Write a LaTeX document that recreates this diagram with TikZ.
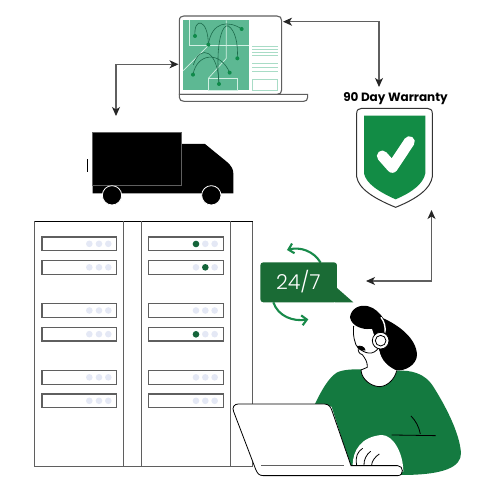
\documentclass[tikz,border=0pt]{standalone}
\usepackage{fontspec}
\setmainfont{Poppins}
\newfontfamily\lightface{Poppins Light}
\usetikzlibrary{arrows.meta,calc}
\definecolor{panelgreen}{HTML}{5DB893}
\definecolor{palegreen}{HTML}{A8DCC6}
\definecolor{gridline}{HTML}{D2F0E3}
\definecolor{dotgreen}{HTML}{0F8A4A}
\definecolor{curvegreen}{HTML}{1D6B4C}
\definecolor{shieldgreen}{HTML}{128C45}
\definecolor{bubblegreen}{HTML}{1A6B35}
\definecolor{shirtgreen}{HTML}{147A40}
\definecolor{arrowgreen}{HTML}{188A4A}
\definecolor{ledoff}{HTML}{E4E8F5}
\definecolor{ledon}{HTML}{15653A}
\definecolor{rule}{HTML}{5F5F5F}
\tikzset{
  link/.style={draw=rule,line width=1.1pt,{Stealth[length=9pt,width=8pt,inset=2.5pt,color=black!85]}-{Stealth[length=9pt,width=8pt,inset=2.5pt,color=black!85]}},
  outline/.style={draw=rule,line width=1.1pt},
  slot/.style={draw=rule,line width=1.1pt,fill=white},
  led/.style={circle,fill=ledoff,minimum size=6.6pt,inner sep=0pt},
  ledlit/.style={circle,fill=ledon,minimum size=6.6pt,inner sep=0pt},
  spot/.style={circle,fill=dotgreen,minimum size=4pt,inner sep=0pt},
  route/.style={draw=curvegreen,line width=.6pt},
  grid/.style={draw=gridline,line width=.7pt},
  listline/.style={draw=palegreen,line width=.9pt},
  sway/.style={draw=arrowgreen,line width=2.1pt,-{Straight Barb[length=5pt,width=10pt,line width=2.1pt]}},
  ink/.style={draw=black,line width=.8pt}
}
\begin{document}
\begin{tikzpicture}[x=1pt,y=-1pt]
\useasboundingbox (0,0) rectangle (500,500);
\fill[white] (0,0) rectangle (500,500);

% anchors where the connectors meet the objects
\coordinate (lapE) at (283,21.7);
\coordinate (warN) at (379,87);
\coordinate (lapW) at (178.5,64.3);
\coordinate (truckN) at (116,116);
\coordinate (shieldS) at (431.5,210);
\coordinate (chatE) at (366,281);

% notebook with a route map on screen
\begin{scope}[shift={(160,0)},scale=0.3333]
  \draw[outline,fill=white] (58,283) -- (58,62) .. controls (58,52) and (64,48) .. (72,48) -- (351,48) .. controls (360,48) and (365,53) .. (365,62) -- (365,270) .. controls (365,278) and (360,283) .. (352,283) -- cycle;
  \draw[outline,fill=white] (58,283) -- (443,283) -- (443,292) .. controls (443,300) and (438,304) .. (431,304) -- (72,304) .. controls (64,304) and (58,300) .. (58,292) -- cycle;
  \fill[panelgreen] (70,61) rectangle (266,271);
  \draw[grid] (88,61) -- (88,137) -- (266,137);
  \draw[grid] (199,61) -- (199,175) -- (145,235);
  \draw[grid] (145,235) rectangle (233,271);
  \draw[grid] (145,137) -- (70,212);
  \foreach \yy in {140,147,156,166,190,202,214} \draw[listline] (277,\yy) -- (353,\yy);
  \draw[listline] (277,237) rectangle (353,271);
  \draw[route] (105,108) .. controls (100,50) and (145,55) .. (145,134);
  \draw[route] (145,134) .. controls (155,65) and (205,60) .. (245,87);
  \draw[route] (177,252) .. controls (165,120) and (190,70) .. (205,78) .. controls (225,90) and (235,130) .. (232,175);
  \draw[route] (99,224) .. controls (110,160) and (180,150) .. (209,218);
  \draw[route] (100,195) .. controls (120,130) and (175,150) .. (177,252);
  \foreach \n/\p in {a/{105,108},b/{145,134},c/{245,87},d/{232,175},e/{209,218},f/{99,224},g/{177,252}}
    \node[spot] (spot\n) at (\p) {};
\end{scope}

% warranty shield
\node[font=\bfseries\fontsize{12}{14}\selectfont,inner sep=0pt] (warranty) at (395.5,98.5) {90 Day Warranty};
\begin{scope}[shift={(330,80)},scale=0.3333]
  \draw[draw=black!80,line width=1pt,fill=white] (80,100) .. controls (80,90) and (86,85) .. (95,85) -- (292,85) .. controls (301,85) and (307,90) .. (307,100) -- (307,290) .. controls (302,325) and (264,355) .. (197,382) .. controls (130,355) and (85,325) .. (80,290) -- cycle;
  \fill[shieldgreen] (102,107) -- (286,107) -- (286,280) .. controls (280,310) and (250,335) .. (197,358) .. controls (145,335) and (108,310) .. (102,280) -- cycle;
  \draw[white,line width=11pt,line cap=round,line join=round] (157,228) -- (187,262) -- (238,185);
\end{scope}

% delivery truck
\begin{scope}[shift={(70,120)},scale=0.3333]
  \fill[black] (335,72) -- (405,72) -- (470,125) .. controls (484,137) and (490,148) .. (490,160) -- (490,220) -- (68,220) -- (68,198) -- (335,198) -- cycle;
  \draw[draw=rule,line width=1pt,fill=black] (68,38) rectangle (335,198);
  \draw[black,line width=1pt] (52,118) -- (52,157);
  \draw[draw=white,line width=.8pt,fill=black] (126,226) circle (29);
  \draw[draw=white,line width=.8pt,fill=black] (424,226) circle (29);
\end{scope}

% server rack
\begin{scope}[shift={(25,215)},scale=0.3333]
  \draw[draw=rule,line width=1pt] (29,755) -- (29,19) -- (683,19) -- (683,755) -- cycle;
  \draw[draw=black,line width=1pt] (29,19) -- (683,19);
  \draw[draw=rule,line width=1.5pt] (29,755) -- (683,755);
  \foreach \xx in {297,349,616} \draw[draw=rule,line width=1pt] (\xx,19) -- (\xx,755);
  \foreach \yy/\yb in {66/107,136/178,266/307,337/378,466/508,537/578}{
    \draw[slot] (51,\yy) rectangle (275,\yb);
    \draw[slot] (370,\yy) rectangle (595,\yb);
    \foreach \xx in {193,222,250} \node[led] at (\xx,{(\yy+\yb)/2}) {};
    \foreach \xx in {513,541,569} \node[led] at (\xx,{(\yy+\yb)/2}) {};
  }
  \node[ledlit] (ledA) at (513,87) {};
  \node[ledlit] (ledB) at (541,157) {};
  \node[ledlit] (ledC) at (513,358) {};
\end{scope}

% support agent at a notebook, with the chat bubble
\begin{scope}[shift={(225,230)},scale=0.3333]
  \draw[sway] (287,98) .. controls (265,62) and (225,50) .. (186,60);
  \draw[sway] (145,217) .. controls (160,260) and (205,275) .. (250,268);
  \fill[bubblegreen,rounded corners=3pt] (220,97) -- (336,97) -- (336,217) -- (106,217) -- (106,97) -- cycle;
  \fill[bubblegreen] (335,173) -- (385,217) -- (330,217) -- cycle;
  \node[text=white,font=\lightface\fontsize{20.5}{24}\selectfont,inner sep=0pt] (chat) at (220,155) {24/7};
  % shirt
  \fill[shirtgreen] (270,522) .. controls (290,480) and (310,445) .. (335,428) .. controls (355,418) and (385,418) .. (407,418) -- (515,422) .. controls (560,420) and (600,430) .. (625,470) .. controls (660,525) and (705,610) .. (708,670) .. controls (708,710) and (660,735) .. (530,735) -- (380,720) -- (320,530) -- cycle;
  % hair
  \fill[black] (375,262) .. controls (378,235) and (405,222) .. (430,229) .. controls (450,234) and (465,250) .. (475,265) .. controls (520,285) and (575,325) .. (576,375) .. controls (575,405) and (540,425) .. (510,421) .. controls (485,415) and (470,395) .. (462,360) -- (440,297) .. controls (415,300) and (380,290) .. (375,262) -- cycle;
  % face and neck
  \fill[white] (386,288) .. controls (384,305) and (386,325) .. (390,335) .. controls (392,345) and (396,350) .. (400,352) .. controls (398,362) and (402,372) .. (412,374) .. controls (420,385) and (428,395) .. (427,412) -- (408,420) .. controls (410,450) and (440,470) .. (465,470) .. controls (490,468) and (510,445) .. (515,422) .. controls (490,410) and (470,395) .. (462,360) -- (441,297) .. controls (420,300) and (400,297) .. (386,288) -- cycle;
  \draw[ink] (386,288) .. controls (384,305) and (386,325) .. (390,335) .. controls (392,345) and (396,350) .. (400,352) .. controls (398,362) and (402,372) .. (412,374) .. controls (420,385) and (428,395) .. (427,412) -- (408,420) .. controls (410,450) and (440,470) .. (465,470) .. controls (490,468) and (510,445) .. (515,422);
  % headset
  \draw[white,line width=1.4pt] (468,262) .. controls (478,275) and (482,290) .. (480,308);
  \draw[ink] (398,352) .. controls (420,372) and (445,378) .. (462,352);
  \draw[ink,fill=black] (397,350) .. controls (405,346) and (418,350) .. (420,360) .. controls (410,362) and (400,358) .. (397,350) -- cycle;
  \draw[draw=black,line width=.8pt,fill=white] (467,332) circle (25);
  \draw[draw=black,line width=.8pt,fill=white] (467,332) circle (16);
  % arm and hand
  \fill[white] (383,707) .. controls (383,660) and (410,620) .. (470,615) .. controls (505,615) and (535,670) .. (535,725) -- (383,725) -- cycle;
  \draw[ink] (500,615) -- (632,617);
  \draw[ink] (558,558) .. controls (572,572) and (582,590) .. (586,612);
  \draw[ink] (395,705) .. controls (390,680) and (398,665) .. (413,655);
  \draw[ink] (417,705) .. controls (416,690) and (425,672) .. (437,664);
  \draw[ink] (440,705) .. controls (440,695) and (450,680) .. (463,672);
  % notebook
  \draw[ink,fill=white] (40,522) -- (298,522) .. controls (312,522) and (318,532) .. (322,545) -- (378,707) -- (518,707) .. controls (536,707) and (538,737) .. (518,737) -- (115,737) .. controls (102,737) and (97,730) .. (92,718) -- (26,545) .. controls (20,532) and (28,522) .. (40,522) -- cycle;
  \draw[draw=rule,line width=.9pt] (108,707) -- (356,707);
\end{scope}

% connectors between the objects
\draw[link] (lapE) -- (379,21.7) -- (warN);
\draw[link] (lapW) -- (116,64.3) -- (truckN);
\draw[link] (shieldS) -- (431.5,281) -- (chatE);
\end{tikzpicture}
\end{document}
